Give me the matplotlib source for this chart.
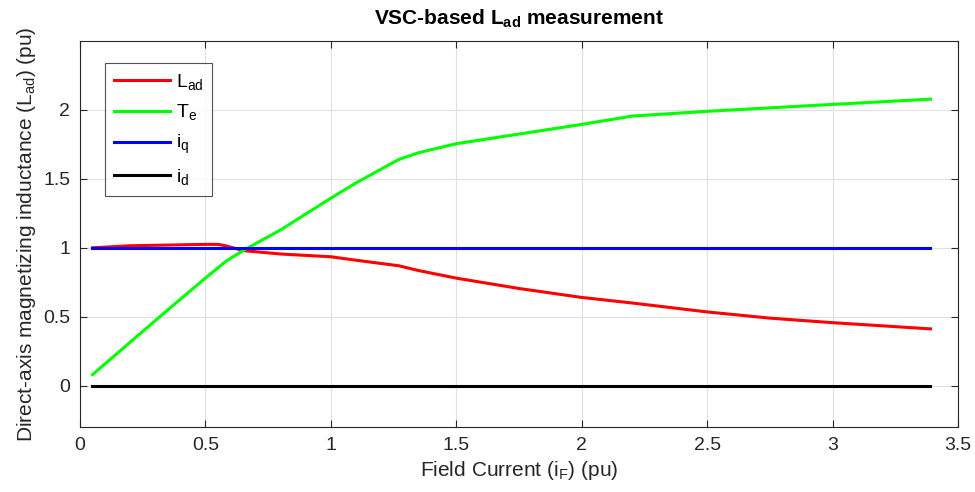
import numpy as np
import matplotlib.pyplot as plt

plt.rcParams['font.family'] = ['Liberation Sans', 'DejaVu Sans']
plt.rcParams['mathtext.fontset'] = 'custom'
plt.rcParams['mathtext.rm'] = 'Liberation Sans'
plt.rcParams['mathtext.it'] = 'Liberation Sans'
plt.rcParams['mathtext.bf'] = 'Liberation Sans:bold'
plt.rcParams['mathtext.default'] = 'regular'

# field current (pu)
i_f = [0.05, 0.2, 0.35, 0.5, 0.55, 0.58, 0.65, 0.8, 1.0, 1.1, 1.27, 1.35,
       1.5, 1.75, 2.0, 2.2, 2.5, 2.75, 3.0, 3.39]
l_ad = [1.0, 1.015, 1.02, 1.025, 1.025, 1.015, 0.98, 0.955, 0.935, 0.91, 0.87, 0.835,
        0.78, 0.705, 0.64, 0.60, 0.535, 0.49, 0.457, 0.412]
t_e = [0.08, 0.315, 0.55, 0.78, 0.855, 0.9, 0.98, 1.13, 1.36, 1.47, 1.64, 1.69,
       1.755, 1.825, 1.895, 1.955, 1.99, 2.015, 2.04, 2.078]
i_q = [1.0] * len(i_f)
i_d = [0.0] * len(i_f)

fig = plt.figure(figsize=(9.75, 4.92), dpi=100)
ax = fig.add_axes([0.082, 0.132, 0.9006, 0.7847])

ax.plot(i_f, l_ad, color='#ff0000', lw=2.2, label='L$_{ad}$')
ax.plot(i_f, t_e, color='#00ff00', lw=2.2, label='T$_{e}$')
ax.plot(i_f, i_q, color='#0000ff', lw=2.2, label='i$_{q}$')
ax.plot(i_f, i_d, color='#000000', lw=2.2, label='i$_{d}$')

ax.set_xlim(0, 3.5)
ax.set_ylim(-0.3, 2.5)
ax.set_xticks(np.arange(0, 3.51, 0.5))
ax.set_xticklabels(['0', '0.5', '1', '1.5', '2', '2.5', '3', '3.5'])
ax.set_yticks(np.arange(0, 2.01, 0.5))
ax.set_yticklabels(['0', '0.5', '1', '1.5', '2'])
ax.grid(True, color='#e0e0e0', lw=0.8)
ax.set_axisbelow(True)
ax.tick_params(direction='in', top=True, right=True, labelsize=14,
               colors='#262626', length=5, pad=7)
for s in ax.spines.values():
    s.set_color('#262626')
    s.set_linewidth(0.8)

ax.set_title(r'VSC-based L$_{\mathbf{ad}}$ measurement', fontsize=15,
             fontweight='bold', pad=12)
ax.set_xlabel('Field Current (i$_{F}$) (pu)', fontsize=15, color='#262626')
ax.set_ylabel('Direct-axis magnetizing inductance (L$_{ad}$) (pu)', fontsize=15,
              color='#262626')

leg = ax.legend(loc='upper left', bbox_to_anchor=(0.0285, 0.943), fontsize=14,
                fancybox=False, edgecolor='#262626', handlelength=2.9,
                labelspacing=0.55, borderpad=0.45, handletextpad=0.3,
                borderaxespad=0)
leg.get_frame().set_linewidth(0.8)

fig.savefig('out.png', dpi=100)
